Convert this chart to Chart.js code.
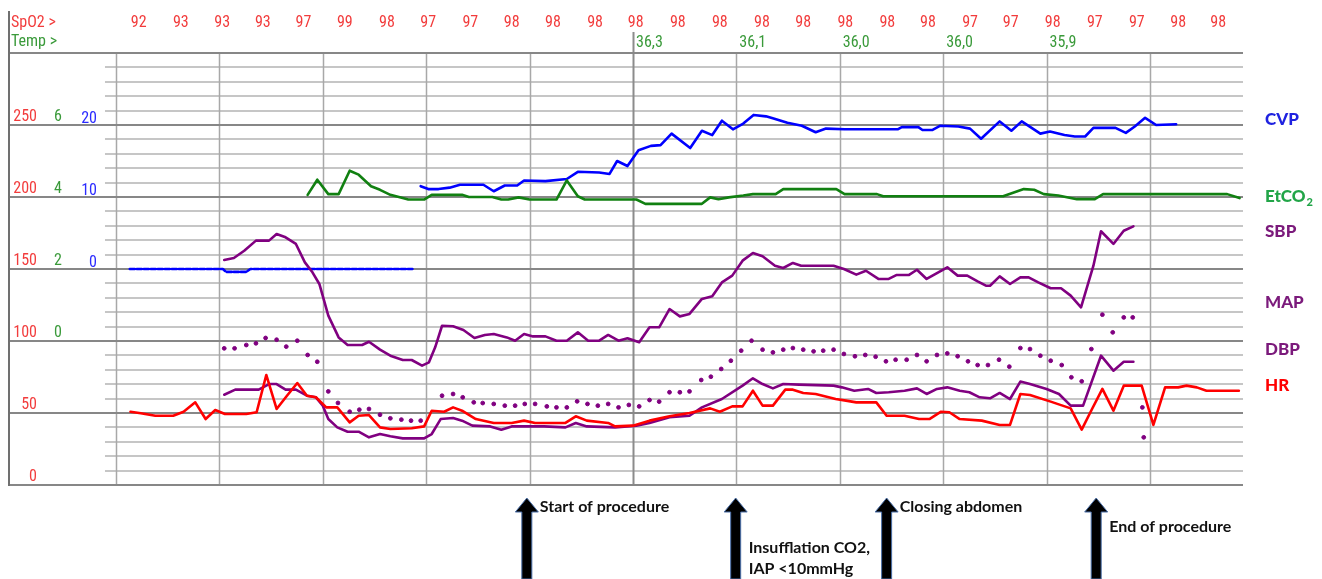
<!DOCTYPE html>
<html><head><meta charset="utf-8">
<script src="https://cdn.jsdelivr.net/npm/chart.js@4/dist/chart.umd.min.js"></script>
<style>html,body{margin:0;padding:0;background:#fff;}canvas{display:block;}</style>
</head><body>
<canvas id="c" width="1322" height="579"></canvas>
<script>
// ---- time axis (minutes) ----
const gridTimes = [0, 15, 30, 45, 60, 75, 90, 105, 120, 135, 150];
const xMin = -15.67, xMax = 163.5;

// ---- header rows ----
const spo2Times = [3.3, 9.4, 15.4, 21.3, 27.2, 33.2, 39.3, 45.3, 51.4, 57.4, 63.4, 69.5, 75.4, 81.5, 87.6, 93.7, 99.7, 105.8, 111.9, 117.8, 123.9, 129.8, 135.9, 142.0, 148.1, 154.1, 159.9];
const spo2Values = [92, 93, 93, 93, 97, 99, 98, 97, 97, 98, 98, 98, 98, 98, 98, 98, 98, 98, 98, 98, 97, 97, 98, 97, 97, 98, 98];
const tempTimes = [75, 90, 105, 120, 135];
const tempValues = ['36,3', '36,1', '36,0', '36,0', '35,9'];

// ---- left axis tick labels ----
const redTicks = [0, 50, 100, 150, 200, 250];
const greenTicks = [0, 2, 4, 6];
const blueTicks = [0, 10, 20];

// ---- series ----
const cvpTimes1 = [2, 15.5, 16, 18.9, 19.5, 43];
const cvpValues1 = [0, 0, -0.4, -0.4, 0, 0];
const cvpTimes2 = [44.2, 45.3, 46.8, 48.4, 49.9, 53.3, 54.8, 56.4, 58.2, 59.2, 62.3, 65.4, 67.0, 70.1, 71.6, 72.7, 74.2, 75.8, 77.6, 79.0, 80.6, 83.3, 85.0, 86.5, 87.9, 89.5, 91.0, 92.5, 94.3, 95.4, 97.4, 99.5, 101.5, 103.0, 105.7, 113.4, 114.0, 116.4, 117.0, 118.4, 119.6, 122.2, 123.9, 125.5, 128.2, 129.9, 131.4, 134.1, 135.5, 137.6, 139.1, 140.6, 141.8, 145.0, 146.5, 147.8, 149.3, 150.9, 153.8];
const cvpValues2 = [11.5, 11.1, 11.1, 11.3, 11.7, 11.7, 10.8, 11.6, 11.6, 12.3, 12.2, 12.5, 13.5, 13.4, 13.2, 15.0, 14.3, 16.5, 17.1, 17.2, 18.8, 16.8, 19.2, 18.6, 20.6, 19.4, 20.2, 21.4, 21.2, 20.9, 20.3, 19.9, 19.0, 19.5, 19.4, 19.4, 19.7, 19.7, 19.3, 19.3, 19.9, 19.8, 19.5, 18.1, 20.5, 19.2, 20.5, 18.8, 19.1, 18.6, 18.4, 18.4, 19.6, 19.6, 18.9, 19.8, 21.0, 20.0, 20.1];

const etTimes = [27.8, 29.2, 30.8, 32.3, 33.9, 35.2, 37.0, 38.3, 39.8, 42.4, 44.7, 45.8, 50.2, 51.2, 54.6, 55.9, 56.9, 58.4, 60.0, 63.9, 65.4, 67.0, 68.0, 75.5, 76.8, 85.0, 86.2, 87.4, 88.9, 91.0, 92.4, 95.7, 96.8, 104.5, 105.7, 110.4, 111.3, 128.7, 131.7, 133.2, 134.6, 136.7, 139.4, 142.0, 143.2, 161.2, 163.0];
const etValues = [4.06, 4.48, 4.08, 4.08, 4.73, 4.62, 4.30, 4.20, 4.06, 3.93, 3.93, 4.06, 4.06, 4.0, 4.0, 3.93, 3.93, 3.99, 3.93, 3.93, 4.46, 4.02, 3.93, 3.93, 3.81, 3.81, 3.99, 3.94, 3.99, 4.04, 4.08, 4.08, 4.22, 4.22, 4.08, 4.08, 4.02, 4.02, 4.22, 4.20, 4.08, 4.04, 3.94, 3.94, 4.08, 4.08, 3.97];

const sbpTimes = [15.7, 17.1, 18.6, 20.3, 22.2, 23.3, 24.6, 26.1, 27.4, 28.5, 29.5, 30.8, 32.3, 33.6, 35.7, 36.7, 38.3, 39.8, 41.6, 42.9, 44.4, 45.4, 46.3, 47.3, 48.9, 50.4, 52.0, 53.5, 54.8, 56.7, 57.9, 59.2, 60.5, 62.3, 63.9, 65.4, 67.0, 68.5, 70.1, 71.4, 72.9, 74.2, 75.9, 77.4, 78.8, 80.3, 81.8, 83.2, 85.0, 86.5, 87.9, 89.4, 90.9, 92.4, 93.8, 95.6, 96.8, 98.2, 99.4, 104.1, 105.6, 107.4, 108.8, 110.6, 112.1, 113.2, 115.0, 116.2, 117.6, 119.1, 120.6, 122.1, 123.5, 125.0, 126.2, 126.8, 128.2, 129.7, 131.2, 132.4, 133.8, 135.6, 137.1, 138.5, 140.0, 141.8, 142.9, 144.7, 146.2, 147.6];
const sbpValues = [156.3, 157.6, 162.7, 169.7, 169.7, 174.3, 172.0, 167.4, 154.6, 147.7, 139.6, 117.6, 102.5, 97.2, 97.2, 99.5, 94.0, 89.8, 86.8, 86.8, 82.9, 85.2, 95.6, 110.6, 110.2, 107.6, 102.1, 104.2, 104.9, 102.5, 100.2, 104.9, 103.2, 103.2, 100.2, 100.2, 106.0, 100.2, 100.2, 104.2, 100.2, 101.9, 99.1, 109.5, 109.5, 122.2, 117.1, 118.8, 129.2, 131.0, 140.7, 145.4, 155.8, 161.1, 158.8, 152.3, 150.7, 154.2, 152.3, 152.3, 150.0, 146.1, 148.8, 143.1, 143.1, 145.8, 145.8, 149.5, 143.1, 147.2, 151.2, 145.4, 145.4, 141.4, 138.4, 138.4, 144.9, 139.6, 144.2, 144.2, 140.7, 136.6, 136.6, 131.5, 123.4, 152.3, 176.2, 167.4, 176.6, 179.6];

const mapTimes = [15.7, 17.3, 20.7, 22.2, 23.3, 24.6, 26.1, 27.7, 29.0, 30.0, 30.8, 32.1, 33.6, 35.2, 36.7, 38.3, 39.8, 41.6, 44.7, 45.8, 47.1, 48.9, 50.2, 51.7, 54.3, 55.9, 57.4, 59.0, 62.1, 65.2, 66.7, 68.3, 72.4, 75.5, 77.4, 80.3, 83.2, 85.0, 87.9, 90.9, 92.4, 93.8, 95.3, 96.8, 99.1, 104.1, 105.3, 107.1, 109.1, 110.3, 112.1, 114.4, 116.2, 117.6, 119.1, 120.6, 122.4, 123.8, 125.3, 126.8, 128.2, 129.7, 131.2, 132.6, 135.0, 136.8, 138.5, 140.3, 142.9, 144.7, 146.2, 147.6];
const mapValues = [62.7, 66.2, 66.2, 70.1, 70.1, 66.2, 66.2, 62.0, 60.9, 55.1, 45.8, 40.0, 37.0, 37.0, 33.1, 35.4, 33.8, 32.4, 32.4, 35.4, 45.8, 46.5, 44.7, 41.2, 40.7, 38.4, 40.7, 40.7, 40.7, 40.0, 43.1, 40.7, 40.0, 41.2, 43.1, 47.0, 48.1, 53.9, 59.7, 69.0, 74.1, 70.1, 67.1, 70.1, 69.7, 69.0, 67.8, 65.5, 66.7, 63.9, 64.4, 65.5, 67.1, 63.2, 66.7, 67.8, 65.5, 64.4, 60.9, 60.2, 63.9, 59.7, 71.8, 70.1, 66.7, 63.2, 55.1, 55.1, 89.8, 79.4, 85.6, 85.6];

const dbpTimes = [15.7, 17.2, 18.9, 20.3, 21.7, 23.3, 24.7, 26.3, 27.8, 29.2, 30.8, 32.2, 33.9, 35.3, 36.7, 38.3, 39.8, 41.4, 42.8, 44.2, 47.3, 48.9, 50.3, 51.9, 53.2, 54.8, 56.4, 57.9, 59.3, 60.8, 62.5, 63.9, 65.4, 66.9, 68.4, 69.9, 71.4, 72.9, 74.4, 75.9, 77.4, 78.8, 80.3, 81.8, 83.2, 84.9, 86.3, 87.8, 89.2, 90.7, 92.2, 93.8, 95.3, 96.8, 98.2, 99.7, 101.2, 102.6, 104.1, 105.6, 107.2, 108.7, 110.2, 111.7, 113.1, 114.7, 116.2, 117.6, 119.1, 120.6, 122.1, 123.6, 125.0, 126.5, 128.1, 129.6, 131.2, 132.6, 134.1, 135.6, 137.2, 138.6, 140.1, 141.5, 143.1, 144.6, 146.2, 147.5, 148.9, 149.1];
const dbpValues = [94.9, 94.9, 97.2, 98.4, 102.1, 100.9, 96.1, 100.2, 90.3, 85.6, 65.0, 57.0, 50.9, 52.3, 52.8, 48.8, 46.3, 45.4, 44.7, 44.7, 62.0, 63.2, 60.9, 57.4, 56.9, 56.3, 55.1, 55.1, 56.3, 56.3, 54.6, 53.9, 53.9, 58.1, 56.3, 55.1, 56.3, 53.9, 55.6, 54.6, 59.0, 57.9, 64.4, 64.4, 65.0, 72.9, 75.2, 80.6, 86.3, 93.3, 100.2, 94.0, 92.1, 94.0, 95.1, 94.0, 92.8, 93.3, 94.0, 91.0, 89.4, 90.3, 89.1, 85.9, 87.0, 87.0, 90.3, 85.9, 90.3, 91.4, 89.4, 85.9, 83.3, 83.3, 87.0, 82.2, 95.1, 94.4, 89.8, 86.3, 83.3, 74.8, 72.0, 94.4, 118.3, 106.0, 116.4, 116.4, 53.9, 33.1];

const hrTimes = [2.1, 3.6, 5.7, 8.3, 9.8, 11.5, 13.0, 14.4, 15.8, 18.9, 20.4, 21.8, 23.3, 24.8, 26.3, 27.7, 29.0, 30.5, 32.1, 33.9, 35.2, 36.7, 38.3, 39.8, 42.9, 44.7, 45.8, 47.6, 48.9, 50.2, 52.2, 54.8, 57.4, 59.2, 60.8, 65.2, 66.7, 68.3, 71.4, 72.4, 75.0, 77.4, 80.3, 83.2, 86.2, 87.6, 89.4, 90.9, 92.4, 93.8, 95.3, 97.1, 98.2, 99.7, 101.5, 104.4, 105.9, 107.4, 110.3, 111.8, 114.4, 116.5, 118.0, 119.7, 120.9, 122.4, 125.6, 128.2, 129.7, 131.2, 132.6, 135.6, 138.5, 140.1, 141.6, 143.1, 144.7, 146.2, 148.8, 150.5, 152.2, 154.1, 155.3, 156.8, 158.2, 162.9];
const hrValues = [50.9, 49.8, 48.1, 48.1, 50.9, 57.4, 45.8, 52.1, 49.3, 49.3, 50.5, 76.4, 52.8, 62.0, 70.8, 62.0, 60.9, 53.9, 53.9, 43.5, 48.1, 48.6, 40.0, 38.9, 39.4, 40.7, 51.6, 50.9, 53.9, 51.6, 45.8, 43.1, 43.1, 44.7, 43.1, 43.1, 47.7, 44.7, 43.1, 40.7, 41.2, 44.7, 47.7, 50.0, 53.2, 50.9, 54.6, 54.6, 65.5, 55.1, 55.1, 66.2, 66.2, 63.9, 63.2, 59.7, 58.6, 57.4, 57.4, 48.1, 48.1, 45.8, 45.8, 50.9, 50.5, 45.8, 44.7, 41.7, 41.7, 63.2, 62.5, 57.9, 53.2, 38.4, 52.8, 66.7, 51.6, 69.0, 69.0, 41.7, 67.8, 67.8, 69.0, 67.8, 65.5, 65.5];

// ---- legend labels (name, position on the 0-300 scale) ----
const legendNames = ['CVP', 'EtCO2', 'SBP', 'MAP', 'DBP', 'HR'];
const legendLevels = [253.5, 200, 175.7, 127, 94.4, 68.75];

// ---- events ----
const eventTimes = [59.6, 89.9, 111.8, 142.2];
const eventLabels = [['Start of procedure'], ['Insufflation CO2,', 'IAP <10mmHg'], ['Closing abdomen'], ['End of procedure']];

const C = {red:'#ff0000', purple:'#800080', blue:'#0000ff', green:'#118011',
  txtRed:'#f23c3c', txtGreen:'#3a9a3a', txtBlue:'#2a2aff', legGreen:'#22a548', legPurple:'#7b1a7b', legBlue:'#1f22e0'};

const pts = (t, v) => t.map((x, i) => ({x, y: v[i]}));

const gridPlugin = {
  id: 'monitorGrid',
  beforeDatasetsDraw(chart) {
    const {ctx, chartArea: a, scales: {x, y}} = chart;
    ctx.save();
    const minorStart = x.getPixelForValue(-1.6);
    for (let v = 0; v <= 300; v += 10) {
      const major = v % 50 === 0;
      if (major) continue;
      const py = Math.round(y.getPixelForValue(v));
      ctx.strokeStyle = '#c6c6c6'; ctx.lineWidth = 2;
      ctx.beginPath(); ctx.moveTo(minorStart, py); ctx.lineTo(a.right, py); ctx.stroke();
    }
    for (const t of gridTimes) {
      const px = Math.round(x.getPixelForValue(t)) + 0.5;
      ctx.strokeStyle = t === 75 ? '#8c8c8c' : '#a8a8a8'; ctx.lineWidth = t === 75 ? 2 : 1.5;
      ctx.beginPath(); ctx.moveTo(px, t === 75 ? 32 : a.top); ctx.lineTo(px, a.bottom); ctx.stroke();
    }
    for (let v = 0; v <= 300; v += 50) {
      const py = Math.round(y.getPixelForValue(v));
      ctx.strokeStyle = '#878787'; ctx.lineWidth = 2.2;
      ctx.beginPath(); ctx.moveTo(a.left, py); ctx.lineTo(a.right, py); ctx.stroke();
    }
    ctx.strokeStyle = '#707070'; ctx.lineWidth = 2;
    ctx.beginPath(); ctx.moveTo(a.left + 1, 11); ctx.lineTo(a.left + 1, a.bottom + 1); ctx.stroke();
    ctx.restore();
  }
};

const textPlugin = {
  id: 'monitorText',
  afterDraw(chart) {
    const {ctx, chartArea: a, scales: {x, y, yEt, yCvp}} = chart;
    ctx.save();
    const narrow = '"Liberation Sans Narrow", "Roboto Condensed", "Liberation Sans", Arial, sans-serif';
    // header
    ctx.textBaseline = 'alphabetic';
    ctx.font = '16px ' + narrow;
    ctx.fillStyle = C.txtRed; ctx.textAlign = 'left';
    ctx.fillText('SpO2 >', 11, 27);
    ctx.fillStyle = C.txtGreen;
    ctx.fillText('Temp >', 11, 46);
    ctx.textAlign = 'center'; ctx.fillStyle = C.txtRed;
    spo2Times.forEach((t, i) => ctx.fillText(String(spo2Values[i]), x.getPixelForValue(t), 27));
    ctx.textAlign = 'left'; ctx.fillStyle = C.txtGreen;
    tempTimes.forEach((t, i) => ctx.fillText(tempValues[i], x.getPixelForValue(t) + 3, 47));
    // left axis labels
    ctx.textAlign = 'right'; ctx.font = '16px ' + narrow;
    ctx.fillStyle = C.txtRed;
    redTicks.forEach(v => ctx.fillText(String(v), 37, y.getPixelForValue(v) - 4));
    ctx.fillStyle = C.txtGreen;
    greenTicks.forEach(v => ctx.fillText(String(v), 62, yEt.getPixelForValue(v) - 4));
    ctx.fillStyle = C.txtBlue;
    blueTicks.forEach(v => ctx.fillText(String(v), 97, yCvp.getPixelForValue(v) - 2));
    // right legend
    const legColors = [C.legBlue, C.legGreen, C.legPurple, C.legPurple, C.legPurple, C.red];
    ctx.textAlign = 'left'; ctx.textBaseline = 'middle';
    legendNames.forEach((n, i) => {
      const py = y.getPixelForValue(legendLevels[i]);
      ctx.fillStyle = legColors[i];
      ctx.font = '900 17px Lato, "Open Sans", sans-serif';
      if (n === 'EtCO2') {
        ctx.fillText('EtCO', 1265, py);
        const w = ctx.measureText('EtCO').width;
        ctx.font = '900 11px Lato, "Open Sans", sans-serif';
        ctx.fillText('2', 1265 + w + 1, py + 5);
      } else {
        ctx.fillText(n, 1265, py);
      }
    });
    // events
    eventTimes.forEach((t, i) => {
      const cx = x.getPixelForValue(t);
      ctx.fillStyle = '#000'; ctx.strokeStyle = '#4a6fa8'; ctx.lineWidth = 1;
      ctx.beginPath();
      ctx.moveTo(cx, 498);
      ctx.lineTo(cx + 11.5, 512);
      ctx.lineTo(cx + 5, 512);
      ctx.lineTo(cx + 5, 579);
      ctx.lineTo(cx - 5, 579);
      ctx.lineTo(cx - 5, 512);
      ctx.lineTo(cx - 11.5, 512);
      ctx.closePath();
      ctx.fill(); ctx.stroke();
      ctx.fillStyle = '#111';
      ctx.font = 'bold 16px Lato, "Open Sans", sans-serif';
      ctx.textAlign = 'left'; ctx.textBaseline = 'middle';
      const lines = eventLabels[i];
      let y0 = i === 1 ? 548 : (i === 3 ? 527 : 507);
      lines.forEach((s, k) => ctx.fillText(s, cx + 13, y0 + k * 21));
    });
    ctx.restore();
  }
};

new Chart(document.getElementById('c'), {
  type: 'line',
  data: {
    datasets: [
      {label: 'HR', data: pts(hrTimes, hrValues), yAxisID: 'y', borderColor: C.red, borderWidth: 2.6},
      {label: 'MAP', data: pts(mapTimes, mapValues), yAxisID: 'y', borderColor: C.purple, borderWidth: 2.6},
      {label: 'SBP', data: pts(sbpTimes, sbpValues), yAxisID: 'y', borderColor: C.purple, borderWidth: 2.6},
      {label: 'DBP', data: pts(dbpTimes, dbpValues), yAxisID: 'y', borderColor: C.purple, backgroundColor: C.purple, showLine: false, pointRadius: 1.9, pointStyle: 'circle'},
      {label: 'EtCO2', data: pts(etTimes, etValues), yAxisID: 'yEt', borderColor: C.green, borderWidth: 2.6},
      {label: 'CVP', data: pts(cvpTimes2, cvpValues2), yAxisID: 'yCvp', borderColor: C.blue, borderWidth: 2.6},
      {label: 'CVP0', data: pts(cvpTimes1, cvpValues1), yAxisID: 'yCvp', borderColor: C.blue, borderWidth: 2.6, borderDash: [5, 2]}
    ]
  },
  options: {
    responsive: false, animation: false, devicePixelRatio: 1,
    layout: {padding: {left: 8, top: 53, right: 79, bottom: 94}},
    elements: {line: {tension: 0, borderJoinStyle: 'round', borderCapStyle: 'round'}, point: {radius: 0}},
    plugins: {legend: {display: false}, tooltip: {enabled: false}},
    scales: {
      x: {type: 'linear', min: xMin, max: xMax, display: false},
      y: {type: 'linear', min: 0, max: 300, display: false},
      yEt: {type: 'linear', min: -4, max: 8, display: false},
      yCvp: {type: 'linear', min: -30, max: 30, display: false}
    }
  },
  plugins: [gridPlugin, textPlugin]
});
</script>
</body></html>
